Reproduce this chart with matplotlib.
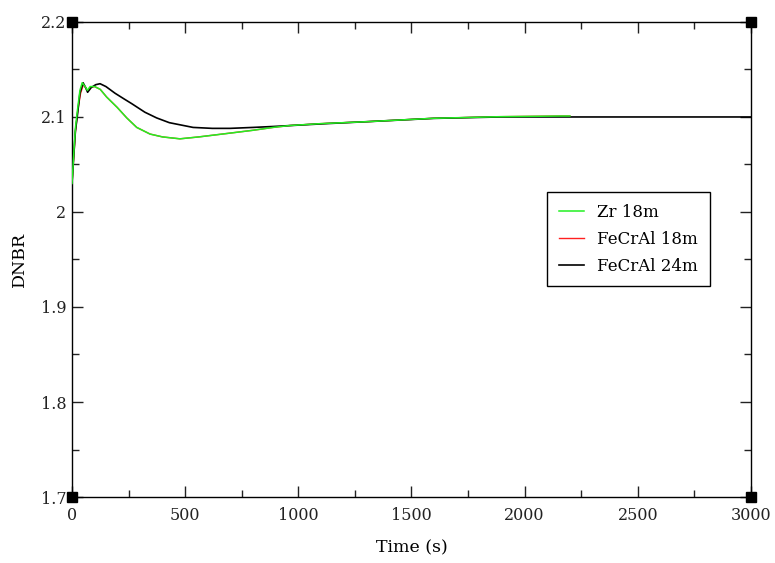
import numpy as np
import matplotlib.pyplot as plt
from matplotlib.ticker import MultipleLocator, FormatStrFormatter

# ------------------------------------------
# DNBR vs time for the three cladding cases
# ------------------------------------------
t_zr = [0, 8, 15, 23, 35, 45, 58, 68, 80, 100, 125, 153, 200, 242, 286, 345,
        400, 477, 560, 698, 800, 888, 963, 1100, 1300, 1597, 1891, 2156, 2200]
dnbr_zr = [2.030, 2.062, 2.088, 2.105, 2.128, 2.136, 2.132, 2.128, 2.132, 2.132,
           2.129, 2.121, 2.110, 2.099, 2.089, 2.082, 2.079, 2.077, 2.079, 2.083,
           2.086, 2.089, 2.091, 2.093, 2.095, 2.0986, 2.1003, 2.101, 2.101]

t_fe18 = [0, 8, 15, 25, 38, 50, 60, 70, 82, 100, 125, 153, 200, 242, 286, 345,
          400, 477, 560, 698, 800, 888, 963, 1100, 1300, 1597, 1891, 2156, 2200]
dnbr_fe18 = [2.030, 2.058, 2.084, 2.106, 2.125, 2.134, 2.131, 2.127, 2.131, 2.132,
             2.129, 2.121, 2.110, 2.099, 2.089, 2.082, 2.079, 2.077, 2.079, 2.083,
             2.086, 2.089, 2.091, 2.093, 2.095, 2.0986, 2.1003, 2.101, 2.101]

t_fe24 = [0, 8, 15, 23, 35, 49, 60, 69, 85, 105, 124, 150, 190, 230, 264, 322,
          374, 430, 535, 620, 698, 800, 890, 1007, 1125, 1300, 1597, 1891, 2200,
          2600, 3000]
dnbr_fe24 = [2.030, 2.060, 2.085, 2.100, 2.125, 2.136, 2.131, 2.126, 2.131, 2.134,
             2.135, 2.132, 2.125, 2.119, 2.114, 2.105, 2.099, 2.094, 2.089, 2.088,
             2.088, 2.089, 2.090, 2.0915, 2.093, 2.095, 2.0985, 2.100, 2.100,
             2.100, 2.100]

x_lim = (0, 3000)
y_lim = (1.7, 2.2)

plt.rcParams['font.family'] = ['DejaVu Serif']

fig = plt.figure(figsize=(7.75, 5.63), dpi=100)
ax = fig.add_axes([0.0929, 0.1172, 0.8761, 0.8438])

ax.plot(t_fe18, dnbr_fe18, color='#ff2020', lw=1.0, label='FeCrAl 18m', zorder=2)
ax.plot(t_fe24, dnbr_fe24, color='black', lw=1.2, label='FeCrAl 24m', zorder=3)
ax.plot(t_zr, dnbr_zr, color='#22f022', lw=1.1, label='Zr 18m', zorder=4)

ax.set_xlim(*x_lim)
ax.set_ylim(*y_lim)

ax.xaxis.set_major_locator(MultipleLocator(500))
ax.xaxis.set_minor_locator(MultipleLocator(250))
ax.yaxis.set_major_locator(MultipleLocator(0.1))
ax.yaxis.set_minor_locator(MultipleLocator(0.05))
ax.yaxis.set_major_formatter(FormatStrFormatter('%g'))
ax.tick_params(which='both', direction='in', top=True, right=True,
               labelsize=11.5, colors='#222222')
ax.tick_params(axis='x', pad=7)
ax.tick_params(axis='y', pad=4)
ax.tick_params(which='major', length=8, width=1)
ax.tick_params(which='minor', length=5, width=1)
for s in ax.spines.values():
    s.set_linewidth(1.0)

# black squares on the frame corners
for cx in x_lim:
    for cy in y_lim:
        ax.plot(cx, cy, marker='s', ms=6.5, color='black', clip_on=False, zorder=6)

ax.set_xlabel('Time (s)', fontsize=12.5, labelpad=11)
ax.set_ylabel('DNBR', fontsize=12.5, labelpad=9)

h, l = ax.get_legend_handles_labels()
order = [2, 0, 1]
leg = ax.legend([h[i] for i in order], [l[i] for i in order],
                loc='upper left', bbox_to_anchor=(0.7, 0.642), borderaxespad=0,
                fontsize=12, fancybox=False, framealpha=1, edgecolor='black',
                handlelength=1.5, borderpad=0.7, labelspacing=0.6)
leg.get_frame().set_linewidth(1.0)

fig.savefig('out.png', dpi=100)
